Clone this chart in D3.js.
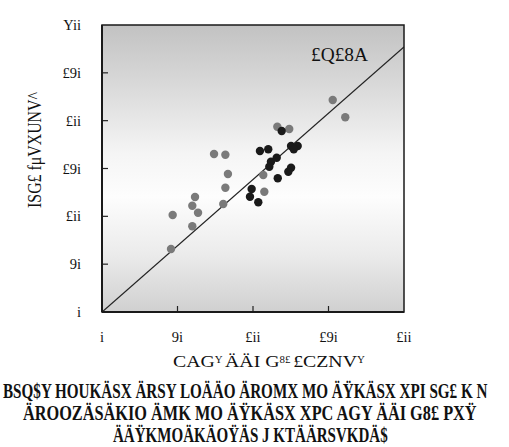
<!DOCTYPE html>
<html><head><meta charset="utf-8">
<script src="https://cdn.jsdelivr.net/npm/d3@7"></script>
<style>body{margin:0;background:#fff}svg{display:block}text{font-family:"Liberation Serif",serif;fill:#111}</style>
</head><body><svg id="c" width="509" height="447"></svg>
<script>
// data (axis units)
const grayX = [152.8,161.1,116.1,124.0,74.2,81.7,83.4,106.8,81.7,107.5,61.6,59.8,80.3,63.6,46.8,59.8,45.7];
const grayY = [221.6,203.5,193.7,191.3,165.2,164.4,144.2,143.2,129.9,125.7,120.2,111.1,112.9,103.8,101.4,89.6,65.9];
const blackX = [119.0,104.6,110.1,125.2,129.6,127.0,115.7,111.9,110.8,125.2,123.4,116.4,99.1,98.0,103.5];
const blackY = [189.2,168.3,170.1,173.5,173.5,170.1,161.3,157.1,151.9,150.8,146.6,139.8,128.6,120.5,114.7];
const lineX = [0,200];
const lineY = [0,277];
const xTicks = [0,50,100,150,200];
const xTickLabels = ["i","9i","£ii","£9i","£ii"];
const yTicks = [0,50,100,150,200,250,300];
const yTickLabels = ["i","9i","£ii","£9i","£ii","£9i","Yii"];
const lineLabel = "£Q£8A";
const xTitle = ["CAG","Y","ÄÄI G","8£","£CZNV","Y"];
const yTitle = "ISG£ fμVXUNV^";
const caption = ["BSQ$Y HOUKÄSX ÄRSY LOÄÄO ÄROMX MO ÄŸKÄSX XPI SG£ K N",
                 "ÄROOZÄSÄKIO ÄMK MO ÄŸKÄSX XPC AGY  ÄÄI G8£ PXŸ",
                 "ÄÄŸKMOÄKÄOŸÄS J KTÄÄRSVKDÄ$"];

const svg = d3.select("#c");
const L=102,R=404,T=25,B=312;
const x = d3.scaleLinear().domain([0,200]).range([L,R]);
const y = d3.scaleLinear().domain([0,300]).range([B,T]);

// fit a text to a width by choosing font size, then stretch vertically to target size
function fit(sel, x0, y0, width, size, anchor, rot){
  sel.attr("font-size",size);
  const w = sel.node().getComputedTextLength();
  const fs = size*width/w;
  sel.attr("font-size",fs).attr("x",0).attr("y",0);
  const sy = size/fs;
  sel.attr("transform",`translate(${x0},${y0})${rot?" rotate(-90)":""} scale(1,${sy})`);
  if(anchor) sel.attr("text-anchor",anchor);
}

const defs = svg.append("defs");
const g = defs.append("linearGradient").attr("id","bg").attr("x1",0).attr("y1",0).attr("x2",0).attr("y2",1);
[[0,"#c2c2c2"],[0.2,"#d8d8d8"],[0.45,"#f5f5f5"],[0.6,"#fdfdfd"],[0.8,"#ebebeb"],[1,"#d0d0d0"]].forEach(s=>g.append("stop").attr("offset",s[0]).attr("stop-color",s[1]));
defs.append("clipPath").attr("id","clip").append("rect").attr("x",L).attr("y",T).attr("width",R-L).attr("height",B-T);

svg.append("rect").attr("x",L).attr("y",T).attr("width",R-L).attr("height",B-T).attr("fill","url(#bg)");

// inner ticks
svg.append("g").selectAll("line").data(yTicks.slice(1,-1)).join("line")
  .attr("x1",L).attr("x2",L+6).attr("y1",d=>y(d)).attr("y2",d=>y(d)).attr("stroke","#222").attr("stroke-width",1.2);
svg.append("g").selectAll("line").data(xTicks.slice(1,-1)).join("line")
  .attr("x1",d=>x(d)).attr("x2",d=>x(d)).attr("y1",B).attr("y2",B-6).attr("stroke","#222").attr("stroke-width",1.2);

// regression line
svg.append("line").attr("clip-path","url(#clip)")
  .attr("x1",x(lineX[0])).attr("y1",y(lineY[0])).attr("x2",x(lineX[1])).attr("y2",y(lineY[1]))
  .attr("stroke","#222").attr("stroke-width",1.3);

// points
svg.append("g").selectAll("circle").data(grayX.map((d,i)=>[d,grayY[i]])).join("circle")
  .attr("cx",d=>x(d[0])).attr("cy",d=>y(d[1])).attr("r",4.2).attr("fill","#7a7a7a");
svg.append("g").selectAll("circle").data(blackX.map((d,i)=>[d,blackY[i]])).join("circle")
  .attr("cx",d=>x(d[0])).attr("cy",d=>y(d[1])).attr("r",4.2).attr("fill","#1a1a1a");

// frame
svg.append("rect").attr("x",L).attr("y",T).attr("width",R-L).attr("height",B-T)
  .attr("fill","none").attr("stroke","#1a1a1a").attr("stroke-width",1.5);
svg.append("line").attr("x1",L).attr("x2",L).attr("y1",T).attr("y2",B).attr("stroke","#1a1a1a").attr("stroke-width",2);
svg.append("line").attr("x1",L).attr("x2",R).attr("y1",B).attr("y2",B).attr("stroke","#1a1a1a").attr("stroke-width",2);

// tick labels
svg.append("g").selectAll("text").data(yTicks).join("text")
  .attr("x",81).attr("y",d=>y(d)+5).attr("text-anchor","end").attr("font-size",14.5)
  .text((d,i)=>yTickLabels[i]);
svg.append("g").selectAll("text").data(xTicks).join("text")
  .attr("x",d=>x(d)).attr("y",342).attr("text-anchor","middle").attr("font-size",14.5)
  .text((d,i)=>xTickLabels[i]);

// line label
fit(svg.append("text").text(lineLabel), 311, 61, 57, 18);

// y title
fit(svg.append("text").text(yTitle), 41, 150, 116, 18, "middle", true);

// x title
const xt = svg.append("text");
xTitle.forEach((s,i)=>{
  const sup = i%2===1;
  xt.append("tspan").attr("font-size",sup?"0.55em":"1em").attr("dy",sup?"-0.4em":(i>0?"0.22em":0)).text(s+(sup?"  ":""));
});
fit(xt, 173, 367, 192, 17);

// caption
const capY=[398,420,442], capX=[3,23,113], capW=[485,454,275];
caption.forEach((c,i)=>{
  fit(svg.append("text").attr("font-weight","bold").text(c), capX[i], capY[i], capW[i], 21);
});
</script></body></html>
